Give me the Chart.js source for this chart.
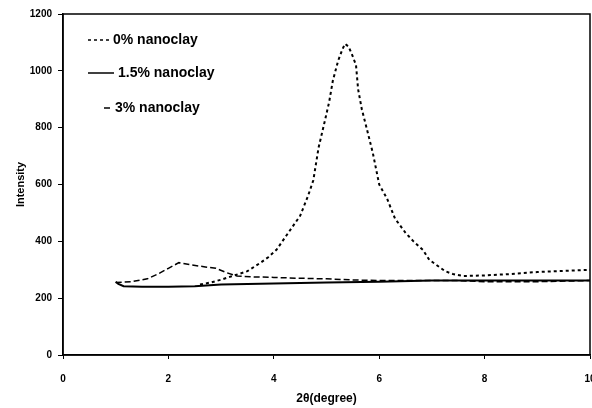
<!DOCTYPE html>
<html>
<head>
<meta charset="utf-8">
<script src="https://cdn.jsdelivr.net/npm/chart.js@4"></script>
<style>
  html, body { margin: 0; padding: 0; background: #fff; }
  #wrap { width: 592px; height: 408px; position: relative; }
</style>
</head>
<body>
<div id="wrap"><canvas id="xrdChart"></canvas></div>
<script>
// 2θ (degree) / intensity readings for each sample
const seriesNames = ["0% nanoclay", "1.5% nanoclay", "3% nanoclay"];

const zeroX = [2.6, 2.8, 3.0, 3.2, 3.5, 3.75, 3.9, 4.05, 4.2, 4.35, 4.5, 4.65, 4.75, 4.85, 4.97, 5.05, 5.12, 5.22, 5.3, 5.35, 5.42, 5.5, 5.56, 5.6, 5.67, 5.78, 5.88, 6.0, 6.15, 6.3, 6.5, 6.65, 6.83, 6.95, 7.1, 7.25, 7.4, 7.6, 8.0, 8.5, 9.0, 9.5, 10.0];
const zeroY = [248, 255, 265, 277, 295, 325, 345, 370, 410, 450, 490, 560, 615, 730, 825, 890, 965, 1035, 1075, 1095, 1085, 1050, 1020, 935, 865, 785, 710, 600, 550, 480, 430, 400, 370, 335, 315, 295, 285, 278, 280, 285, 292, 296, 300];

const midX = [1.0, 1.05, 1.15, 1.5, 2.0, 2.5, 3.0, 3.5, 4.0, 5.0, 6.0, 7.0, 8.0, 9.0, 10.0];
const midY = [258, 250, 242, 240, 240, 242, 248, 250, 252, 255, 258, 262, 262, 262, 262];

const highX = [1.0, 1.3, 1.6, 1.8, 2.0, 2.2, 2.4, 2.7, 2.9, 3.1, 3.3, 3.6, 4.0, 4.5, 5.0, 5.5, 6.0, 7.0, 7.5, 8.0, 9.0, 10.0];
const highY = [255, 258, 268, 285, 305, 325, 318, 310, 305, 290, 278, 275, 273, 270, 268, 264, 262, 262, 262, 258, 258, 262];

const yTicks = [0, 200, 400, 600, 800, 1000, 1200];
const xTicks = [0, 2, 4, 6, 8, 10];

const toPoints = (xs, ys) => xs.map((x, i) => ({ x: x, y: ys[i] }));

// box round the plot + legend inside the plot area
const framePlugin = {
  id: "frame",
  afterDraw(chart) {
    const { ctx, chartArea: a } = chart;
    ctx.save();
    ctx.strokeStyle = "#000";
    ctx.lineWidth = 1.5;
    ctx.strokeRect(a.left, a.top, a.right - a.left, a.bottom - a.top);

    ctx.font = "bold 14px 'Liberation Sans', Arial, sans-serif";
    ctx.textBaseline = "middle";
    ctx.fillStyle = "#000";
    const rows = [
      { y: 40, x1: 88, x2: 112, tx: 113 },
      { y: 73, x1: 88, x2: 114, tx: 118 },
      { y: 108, x1: 104, x2: 112, tx: 115 }
    ];
    chart.data.datasets.forEach((ds, i) => {
      const r = rows[i];
      ctx.beginPath();
      ctx.setLineDash(ds.borderDash || []);
      ctx.lineWidth = 1.5;
      ctx.moveTo(r.x1, r.y);
      ctx.lineTo(r.x2, r.y);
      ctx.stroke();
      ctx.setLineDash([]);
      ctx.fillText(ds.label, r.tx, r.y);
    });
    ctx.restore();
  }
};

const tickFont = { family: "'Liberation Sans', Arial, sans-serif", size: 10, weight: "bold" };

new Chart(document.getElementById("xrdChart"), {
  type: "scatter",
  data: {
    datasets: [
      {
        label: seriesNames[0],
        data: toPoints(zeroX, zeroY),
        showLine: true,
        borderColor: "#000",
        borderWidth: 2,
        borderDash: [3, 3],
        pointRadius: 0
      },
      {
        label: seriesNames[1],
        data: toPoints(midX, midY),
        showLine: true,
        borderColor: "#000",
        borderWidth: 2,
        pointRadius: 0
      },
      {
        label: seriesNames[2],
        data: toPoints(highX, highY),
        showLine: true,
        borderColor: "#000",
        borderWidth: 1.5,
        borderDash: [6, 3],
        pointRadius: 0
      }
    ]
  },
  options: {
    responsive: true,
    maintainAspectRatio: false,
    animation: false,
    layout: { padding: { left: 14, right: 2, top: 14, bottom: 2 } },
    plugins: {
      legend: { display: false },
      tooltip: { enabled: false }
    },
    scales: {
      x: {
        type: "linear",
        min: 0,
        max: 10,
        afterBuildTicks: (scale) => { scale.ticks = xTicks.map(v => ({ value: v })); },
        ticks: { color: "#000", font: tickFont, padding: 14, callback: (v) => String(v) },
        grid: { display: true, drawOnChartArea: false, drawTicks: true, tickLength: 4, color: "#000" },
        border: { display: true, color: "#000", width: 1.5 },
        title: {
          display: true,
          text: "2θ(degree)",
          color: "#000",
          font: { family: "'Liberation Sans', Arial, sans-serif", size: 12, weight: "bold" },
          padding: { top: 2, bottom: 0 }
        },
        afterFit: (scale) => { scale.paddingRight = 0; scale.height = 51; }
      },
      y: {
        min: 0,
        max: 1200,
        afterBuildTicks: (scale) => { scale.ticks = yTicks.map(v => ({ value: v })); },
        ticks: { color: "#000", font: tickFont, padding: 6, callback: (v) => String(v) },
        grid: { display: true, drawOnChartArea: false, drawTicks: true, tickLength: 5, color: "#000" },
        border: { display: true, color: "#000", width: 1.5 },
        title: {
          display: true,
          text: "Intensity",
          color: "#000",
          font: { family: "'Liberation Sans', Arial, sans-serif", size: 11, weight: "bold" },
          padding: { top: 0, bottom: 4 }
        },
        afterFit: (scale) => { scale.width = 49; }
      }
    }
  },
  plugins: [framePlugin]
});
</script>
</body>
</html>
